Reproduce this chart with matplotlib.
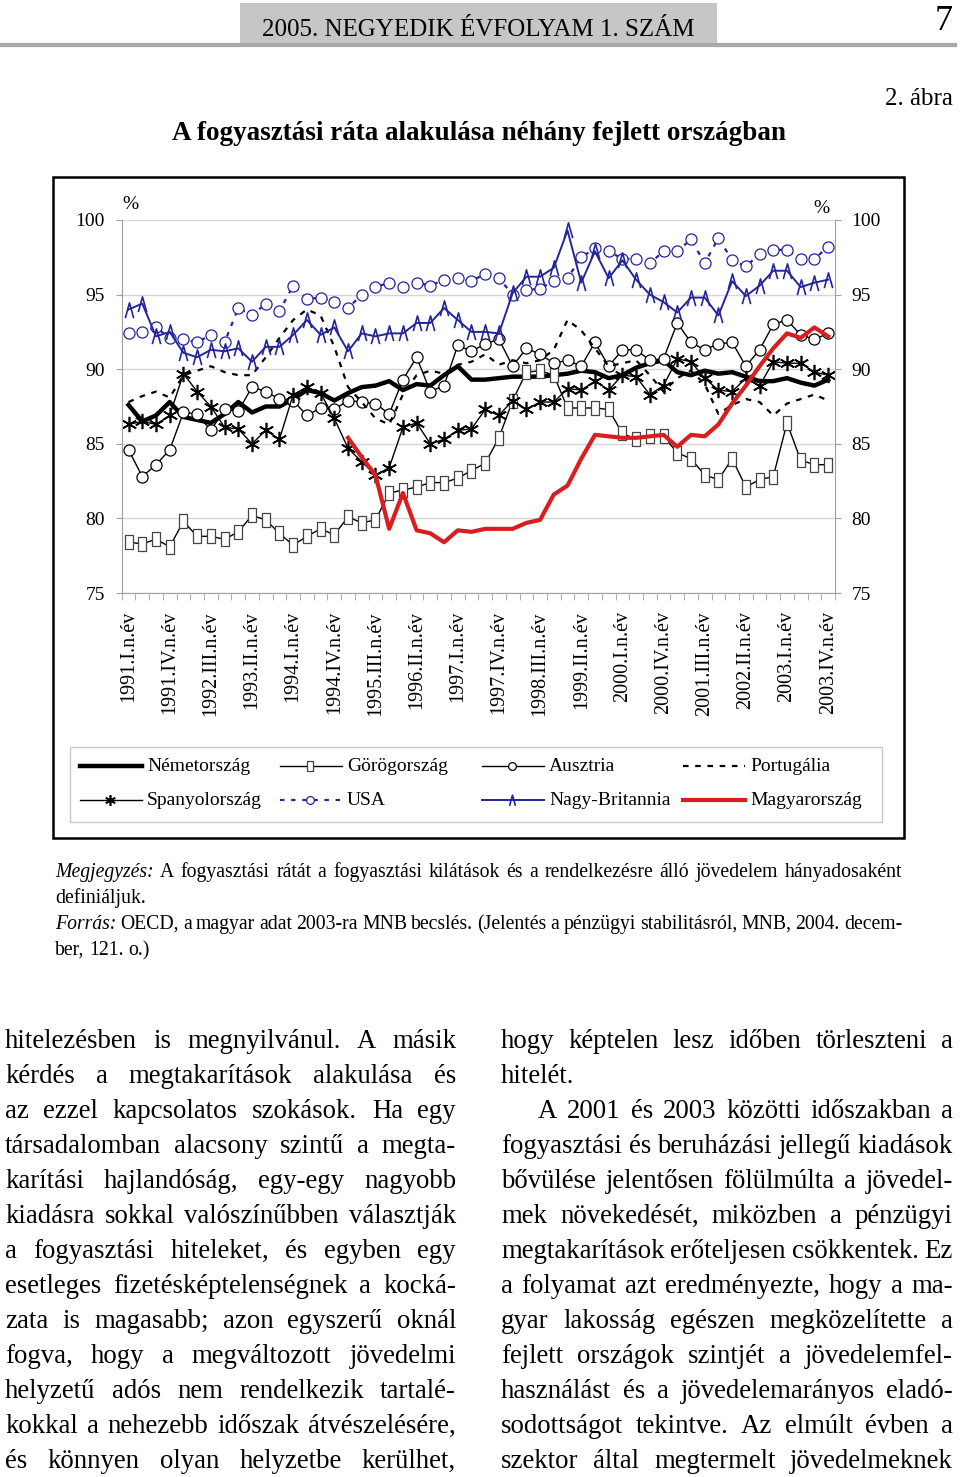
import numpy as np
import matplotlib
matplotlib.use("Agg")
import matplotlib.pyplot as plt
from matplotlib.lines import Line2D
from matplotlib.patches import Rectangle
from matplotlib.path import Path


# ----------------------------
# Data (quarterly, 1991.I - 2003.IV)
# ----------------------------
QUARTERS = [f"{y}.{r}.n.év" for y in range(1991, 2004) for r in ["I", "II", "III", "IV"]]

germany = [87.6, 86.5, 86.9, 87.8, 86.8, 86.6, 86.4, 87.0, 87.8, 87.1, 87.5, 87.5, 88.0,
           88.6, 88.4, 87.9, 88.4, 88.8, 88.9, 89.2, 88.6, 89.0, 88.9, 89.6, 90.2, 89.3,
           89.3, 89.4, 89.5, 89.5, 89.5, 89.6, 89.7, 89.9, 89.8, 89.4, 89.6, 90.1, 90.4,
           90.6, 89.8, 89.6, 89.9, 89.7, 89.8, 89.5, 89.2, 89.2, 89.4, 89.1, 88.9, 89.3]

greece = [78.4, 78.3, 78.6, 78.1, 79.8, 78.8, 78.8, 78.6, 79.1, 80.2, 79.9, 79.0, 78.2,
          78.8, 79.3, 78.9, 80.1, 79.7, 79.9, 81.7, 81.9, 82.1, 82.4, 82.4, 82.7, 83.2,
          83.7, 85.4, 87.9, 89.8, 89.9, 89.6, 87.4, 87.4, 87.4, 87.3, 85.7, 85.3, 85.5,
          85.5, 84.4, 84.0, 82.9, 82.6, 84.0, 82.1, 82.6, 82.8, 86.4, 83.9, 83.6, 83.6]

austria = [84.6, 82.8, 83.6, 84.6, 87.1, 87.0, 85.9, 87.3, 87.2, 88.8, 88.5, 88.0, 87.9,
           86.9, 87.4, 87.3, 87.9, 87.8, 87.7, 87.0, 89.3, 90.8, 88.5, 88.9, 91.6, 91.2,
           91.7, 92.0, 90.2, 91.4, 91.0, 90.4, 90.6, 90.2, 91.8, 90.2, 91.3, 91.3, 90.6,
           90.7, 93.1, 91.8, 91.3, 91.7, 91.8, 90.2, 91.3, 93.0, 93.3, 92.3, 92.0, 92.4]

portugal = [87.8, 88.2, 88.5, 88.1, 89.6, 89.9, 90.2, 89.8, 89.6, 89.6, 90.8, 92.1, 93.3,
            94.0, 93.6, 91.5, 88.8, 87.8, 86.7, 86.3, 88.3, 89.6, 89.9, 89.7, 90.3, 90.5,
            91.0, 90.3, 90.6, 90.4, 90.6, 91.3, 93.3, 92.6, 91.4, 90.2, 90.4, 90.6, 89.6,
            88.5, 89.4, 89.9, 89.0, 87.0, 87.6, 88.0, 87.8, 86.9, 87.7, 88.0, 88.3, 87.9]

spain = [86.3, 86.5, 86.3, 86.9, 89.7, 88.5, 87.5, 86.1, 86.0, 85.0, 85.9, 85.3, 88.3,
         88.8, 88.4, 86.7, 84.7, 83.8, 82.9, 83.4, 86.1, 86.4, 85.0, 85.3, 85.9, 86.0,
         87.3, 86.9, 87.9, 87.3, 87.8, 87.8, 88.7, 88.6, 89.2, 88.6, 89.6, 89.5, 88.3,
         88.9, 90.7, 90.5, 89.4, 88.6, 88.5, 89.4, 88.9, 90.5, 90.4, 90.4, 89.8, 89.6]

usa = [92.4, 92.5, 92.8, 92.1, 92.0, 91.8, 92.3, 91.8, 94.1, 93.6, 94.4, 93.9, 95.6,
       94.7, 94.8, 94.5, 94.1, 95.0, 95.5, 95.8, 95.5, 95.8, 95.6, 96.0, 96.1, 95.9,
       96.4, 96.1, 95.0, 95.3, 95.4, 95.9, 96.1, 97.5, 98.1, 97.9, 97.4, 97.4, 97.1,
       97.9, 97.9, 98.7, 97.1, 98.8, 97.3, 96.9, 97.7, 98.0, 98.0, 97.4, 97.4, 98.2]

uk = [94.0, 94.4, 92.2, 92.5, 91.1, 90.8, 91.3, 91.2, 91.4, 90.5, 91.5, 91.5, 92.3,
      93.3, 92.3, 92.8, 91.2, 92.4, 92.2, 92.4, 92.4, 93.1, 93.1, 94.1, 93.3, 92.5,
      92.5, 92.4, 95.1, 96.2, 96.2, 96.8, 99.3, 95.8, 97.9, 96.1, 97.3, 96.0, 95.0,
      94.5, 93.8, 94.8, 94.8, 93.6, 95.9, 94.9, 95.6, 96.6, 96.6, 95.5, 95.8, 96.0]

# Hungary only from 1995.I
hungary = [np.nan] * 16 + [85.4, 84.1, 82.9, 79.3, 81.7, 79.2, 79.0, 78.4, 79.2, 79.1,
                           79.3, 79.3, 79.3, 79.7, 79.9, 81.6, 82.2, 84.0, 85.6, 85.5,
                           85.4, 85.4, 85.5, 85.6, 84.8, 85.6, 85.5, 86.3, 87.7, 88.9,
                           90.2, 91.4, 92.4, 92.1, 92.8, 92.2]

Y_TICKS = [75, 80, 85, 90, 95, 100]


# ----------------------------
# Page setup
# ----------------------------
W, H = 960, 1477
SERIF = "Liberation Serif"
BLUE = "#24249c"
RED = "#d81e1e"

fig = plt.figure(figsize=(W / 100, H / 100), dpi=100)
renderer = fig.canvas.get_renderer()


def put(x, y, s, **kw):
    kw.setdefault("family", SERIF)
    return fig.text(x / W, 1 - y / H, s, **kw)


def box(x, y, w, h, **kw):
    r = Rectangle((x / W, 1 - (y + h) / H), w / W, h / H, transform=fig.transFigure, **kw)
    fig.patches.append(r)
    return r


def justify(tokens, x0, x1, y, size, last=False):
    objs = []
    for tok in tokens:
        word, style = tok if isinstance(tok, tuple) else (tok, "normal")
        objs.append(put(x0, y, word, fontsize=size, style=style, va="baseline", ha="left"))
    widths = [t.get_window_extent(renderer).width for t in objs]
    space = size * 0.25 * 100 / 72
    if last or len(objs) == 1:
        gap = space
    else:
        gap = max((x1 - x0 - sum(widths)) / (len(objs) - 1), 2)
    x = x0
    for t, w in zip(objs, widths):
        t.set_x(x / W)
        x += w + gap


# header
box(240, 3, 477, 42, facecolor="#c6c6c6", edgecolor="none")
fig.add_artist(Line2D([0, 955 / W], [1 - 45 / H, 1 - 45 / H], transform=fig.transFigure,
                      color="#a8a8a8", lw=3))
put(478, 36, "2005. NEGYEDIK ÉVFOLYAM 1. SZÁM", fontsize=18, ha="center", va="baseline")
put(953, 30, "7", fontsize=26, ha="right", va="baseline")
put(953, 105, "2. ábra", fontsize=18, ha="right", va="baseline")
put(479, 140, "A fogyasztási ráta alakulása néhány fejlett országban",
    fontsize=19.5, weight="bold", ha="center", va="baseline")

# chart frame
box(53, 177, 851, 661, facecolor="none", edgecolor="black", lw=1.8)


# ----------------------------
# Chart
# ----------------------------
x = np.arange(len(QUARTERS))
ax = fig.add_axes([121.7 / W, 1 - 593 / H, (835 - 121.7) / W, (593 - 220) / H])
ax.set_xlim(-0.5, len(QUARTERS) - 0.5)
ax.set_ylim(75, 100)

tri = Path([(-0.55, -1), (0, 1), (0.55, -1)])
rect = Path([(-0.6, -1), (0.6, -1), (0.6, 1), (-0.6, 1), (-0.6, -1)], closed=True)

styles = {
    "Németország": dict(color="black", lw=3.2),
    "Görögország": dict(color="black", lw=1, marker=rect, ms=10, mfc="white", mec="#444444", mew=0.9),
    "Ausztria": dict(color="black", lw=1, marker="o", ms=8, mfc="white", mec="black", mew=0.9),
    "Portugália": dict(color="black", lw=1.6, ls=(0, (2.5, 3))),
    "Spanyolország": dict(color="black", lw=1, marker=(6, 2, 0), ms=11, mew=1.2),
    "USA": dict(color=BLUE, lw=1.6, ls=(0, (2, 3)), marker="o", ms=8, mfc="white", mec=BLUE, mew=0.9),
    "Nagy-Britannia": dict(color=BLUE, lw=1.4, marker=tri, ms=11, mfc="none", mec=BLUE, mew=1.2),
    "Magyarország": dict(color=RED, lw=3),
}
series = {
    "Németország": germany,
    "Görögország": greece,
    "Ausztria": austria,
    "Portugália": portugal,
    "Spanyolország": spain,
    "USA": usa,
    "Nagy-Britannia": uk,
    "Magyarország": hungary,
}
for name, vals in series.items():
    ax.plot(x, vals, **styles[name])

ax.set_yticks(Y_TICKS)
ax.grid(axis="y", color="#d6d6d6", lw=1)
ax.set_axisbelow(True)
for side in ["left", "right", "bottom"]:
    ax.spines[side].set_color("#a0a0a0")
ax.spines["top"].set_visible(False)
ax.tick_params(axis="y", left=True, right=True, labelleft=True, labelright=True,
               direction="out", length=4, color="#a0a0a0", pad=8, labelsize=14)

ax.set_xticks(x[::3])
ax.set_xticklabels(QUARTERS[::3], rotation=90)
ax.set_xticks(np.arange(-0.5, len(QUARTERS)), minor=True)
ax.tick_params(axis="x", which="major", length=0, pad=13, labelsize=14.5)
ax.tick_params(axis="x", which="minor", length=5, color="#a0a0a0", direction="out")
for lab in ax.get_xticklabels():
    lab.set_family(SERIF)
for t in ax.yaxis.get_major_ticks():
    t.label1.set_family(SERIF)
    t.label2.set_family(SERIF)

put(122, 209, "%", fontsize=14, ha="left", va="baseline")
put(829, 213, "%", fontsize=14, ha="right", va="baseline")


# ----------------------------
# Legend (row-major, like the original)
# ----------------------------
box(70, 747, 812, 75, facecolor="none", edgecolor="#c8c8c8", lw=1)
legend_order = [["Németország", "Görögország", "Ausztria", "Portugália"],
                ["Spanyolország", "USA", "Nagy-Britannia", "Magyarország"]]
col_x = [80, 280, 482, 683]
row_y = [766, 800]
for r, names in enumerate(legend_order):
    for c, name in enumerate(names):
        st = dict(styles[name])
        if "ms" in st:
            st["ms"] = st["ms"] * 0.7
        x0, yy = col_x[c], row_y[r]
        fy = 1 - yy / H
        ln = Line2D([x0 / W, (x0 + 30) / W, (x0 + 62) / W], [fy, fy, fy],
                    transform=fig.transFigure, markevery=[1], **st)
        fig.add_artist(ln)
        put(x0 + 67, yy + 5, name, fontsize=14, ha="left", va="baseline")


# ----------------------------
# Notes
# ----------------------------
NOTE_SIZE = 14.2
note1 = [("Megjegyzés:", "italic")] + ("A fogyasztási rátát a fogyasztási kilátások és a "
                                       "rendelkezésre álló jövedelem hányadosaként").split()
note3 = [("Forrás:", "italic")] + ("OECD, a magyar adat 2003-ra MNB becslés. (Jelentés a "
                                   "pénzügyi stabilitásról, MNB, 2004. decem-").split()
justify(note1, 55, 902, 877, NOTE_SIZE)
justify(["definiáljuk."], 55, 902, 903, NOTE_SIZE, last=True)
justify(note3, 55, 902, 929, NOTE_SIZE)
justify("ber, 121. o.)".split(), 55, 902, 955, NOTE_SIZE, last=True)


# ----------------------------
# Body text (two justified columns)
# ----------------------------
left_col = [
    "hitelezésben is megnyilvánul. A másik",
    "kérdés a megtakarítások alakulása és",
    "az ezzel kapcsolatos szokások. Ha egy",
    "társadalomban alacsony szintű a megta-",
    "karítási hajlandóság, egy-egy nagyobb",
    "kiadásra sokkal valószínűbben választják",
    "a fogyasztási hiteleket, és egyben egy",
    "esetleges fizetésképtelenségnek a kocká-",
    "zata is magasabb; azon egyszerű oknál",
    "fogva, hogy a megváltozott jövedelmi",
    "helyzetű adós nem rendelkezik tartalé-",
    "kokkal a nehezebb időszak átvészelésére,",
    "és könnyen olyan helyzetbe kerülhet,",
]
right_col = [
    "hogy képtelen lesz időben törleszteni a",
    "hitelét.",
    "A 2001 és 2003 közötti időszakban a",
    "fogyasztási és beruházási jellegű kiadások",
    "bővülése jelentősen fölülmúlta a jövedel-",
    "mek növekedését, miközben a pénzügyi",
    "megtakarítások erőteljesen csökkentek. Ez",
    "a folyamat azt eredményezte, hogy a ma-",
    "gyar lakosság egészen megközelítette a",
    "fejlett országok szintjét a jövedelemfel-",
    "használást és a jövedelemarányos eladó-",
    "sodottságot tekintve. Az elmúlt évben a",
    "szektor által megtermelt jövedelmeknek",
]
BODY_SIZE = 19.3
for i, line in enumerate(left_col):
    justify(line.split(), 5, 456, 1048 + 35 * i, BODY_SIZE)
for i, line in enumerate(right_col):
    x0 = 538 if i == 2 else 501
    justify(line.split(), x0, 953, 1048 + 35 * i, BODY_SIZE, last=(i == 1))

fig.savefig("out.png", dpi=100)
